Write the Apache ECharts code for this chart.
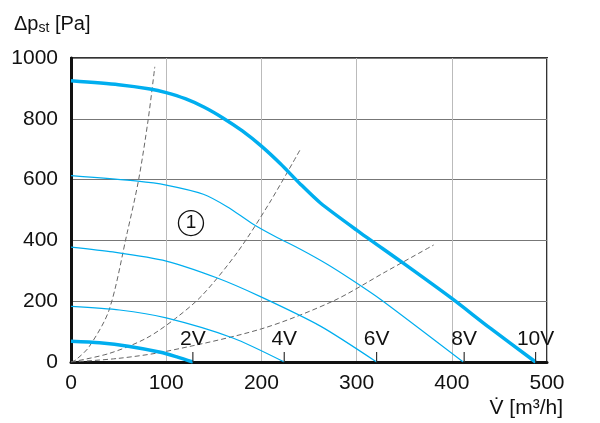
<!DOCTYPE html>
<html>
<head>
<meta charset="utf-8">
<script src="https://cdn.jsdelivr.net/npm/echarts@6/dist/echarts.min.js"></script>
<style>
  html, body { margin: 0; padding: 0; background: #fff; }
  #chart { width: 600px; height: 423px; }
</style>
</head>
<body>
<div id="chart"></div>
<script>
// fan curves: [airflow m3/h, pressure Pa]
const curve10V = [[0, 925], [50, 912], [83, 898], [100, 886], [120, 866], [140, 838], [160, 802], [180, 760], [200, 710], [220, 652], [241, 585], [262, 523], [300, 434], [349, 325], [400, 209], [440, 112], [488, 0]];
const curve8V = [[0, 613], [70, 595], [100, 582], [139, 552], [164, 511], [191, 454], [215, 412], [241, 371], [270, 320], [296, 268], [326, 204], [412, 0]];
const curve6V = [[0, 378], [44, 362], [100, 332], [153, 277], [199, 215], [262, 118], [321, 0]];
const curve4V = [[0, 183], [51, 171], [100, 145], [170, 79], [224, 0]];
const curve2V = [[0, 68], [30, 63], [60, 52], [94, 32], [112, 16], [128, 0]];

// system curves (dashed)
const systemA = [[0, 0], [5, 7], [19, 50], [40, 171], [59, 425], [71, 599], [81, 796], [88, 971]];
const systemB = [[0, 0], [40, 28], [79, 78], [110, 144], [138, 220], [175, 362], [209, 526], [241, 700]];
const systemC = [[0, 0], [50, 12], [100, 35], [200, 109], [275, 200], [330, 296], [381, 385]];

// voltage markers on the x axis
const voltLabels = ["2V", "4V", "6V", "8V", "10V"];
const voltFlows = [128, 224, 321, 413, 488];

const circleLabel = [[126, 457]];

const blue = "#00aeef";
const font = "Liberation Sans, Arial, sans-serif";

const chart = echarts.init(document.getElementById("chart"));

const fanSeries = (data, thick) => ({
  type: "line",
  data: data,
  smooth: 0.25,
  symbol: "none",
  lineStyle: { color: blue, width: thick ? 3.5 : 1.2 },
  z: thick ? 4 : 3
});

const systemSeries = (data) => ({
  type: "line",
  data: data,
  smooth: 0.3,
  symbol: "none",
  lineStyle: { color: "#666", width: 1, type: [5, 3] },
  z: 2
});

chart.setOption({
  animation: false,
  backgroundColor: "#fff",
  title: [
    {
      text: "{a|Δp}{s|st}{a| [Pa]}",
      left: 9,
      top: 8,
      textStyle: {
        fontWeight: "normal",
        rich: {
          a: { fontFamily: font, fontSize: 20, fontWeight: "normal", color: "#111" },
          s: { fontFamily: font, fontSize: 14, fontWeight: "normal", color: "#111", padding: [8, 0, 0, 0] }
        }
      }
    },
    {
      text: "V\u0307 [m³/h]",
      right: 32,
      top: 393,
      textStyle: { fontFamily: font, fontSize: 21, fontWeight: "normal", color: "#111" }
    }
  ],
  grid: {
    left: 71,
    right: 53,
    top: 58,
    bottom: 61,
    show: true,
    borderColor: "#333",
    borderWidth: 2
  },
  xAxis: {
    type: "value",
    min: 0,
    max: 500,
    interval: 100,
    axisLine: { show: true, lineStyle: { color: "#111", width: 3 } },
    axisTick: { show: false },
    axisLabel: { fontFamily: font, fontSize: 21, color: "#111", margin: 11, formatter: (v) => String(v) },
    splitLine: { show: true, lineStyle: { color: "#bbb", width: 1 } }
  },
  yAxis: {
    type: "value",
    min: 0,
    max: 1000,
    interval: 200,
    axisLine: { show: true, lineStyle: { color: "#111", width: 3 } },
    axisTick: { show: false },
    axisLabel: { fontFamily: font, fontSize: 21, color: "#111", margin: 13, formatter: (v) => String(v) },
    splitLine: { show: true, lineStyle: { color: "#777", width: 1 } }
  },
  series: [
    systemSeries(systemA),
    systemSeries(systemB),
    systemSeries(systemC),
    fanSeries(curve10V, true),
    fanSeries(curve8V, false),
    fanSeries(curve6V, false),
    fanSeries(curve4V, false),
    fanSeries(curve2V, true),
    {
      type: "scatter",
      data: voltFlows.map((v, i) => ({ value: [v, 0], name: voltLabels[i] })),
      symbol: "rect",
      symbolSize: [1.2, 10],
      symbolOffset: [0, -5],
      itemStyle: { color: "#333", opacity: 1 },
      label: {
        show: true,
        position: "top",
        distance: 2,
        formatter: (p) => p.name,
        fontFamily: font,
        fontSize: 21,
        color: "#111"
      },
      z: 6
    },
    {
      type: "scatter",
      data: circleLabel,
      symbol: "circle",
      symbolSize: 25,
      itemStyle: { color: "rgba(0,0,0,0)", borderColor: "#111", borderWidth: 1.3, opacity: 1 },
      label: {
        show: true,
        position: "inside",
        formatter: "1",
        fontFamily: font,
        fontSize: 19,
        color: "#111"
      },
      z: 6
    }
  ]
});
</script>
</body>
</html>
